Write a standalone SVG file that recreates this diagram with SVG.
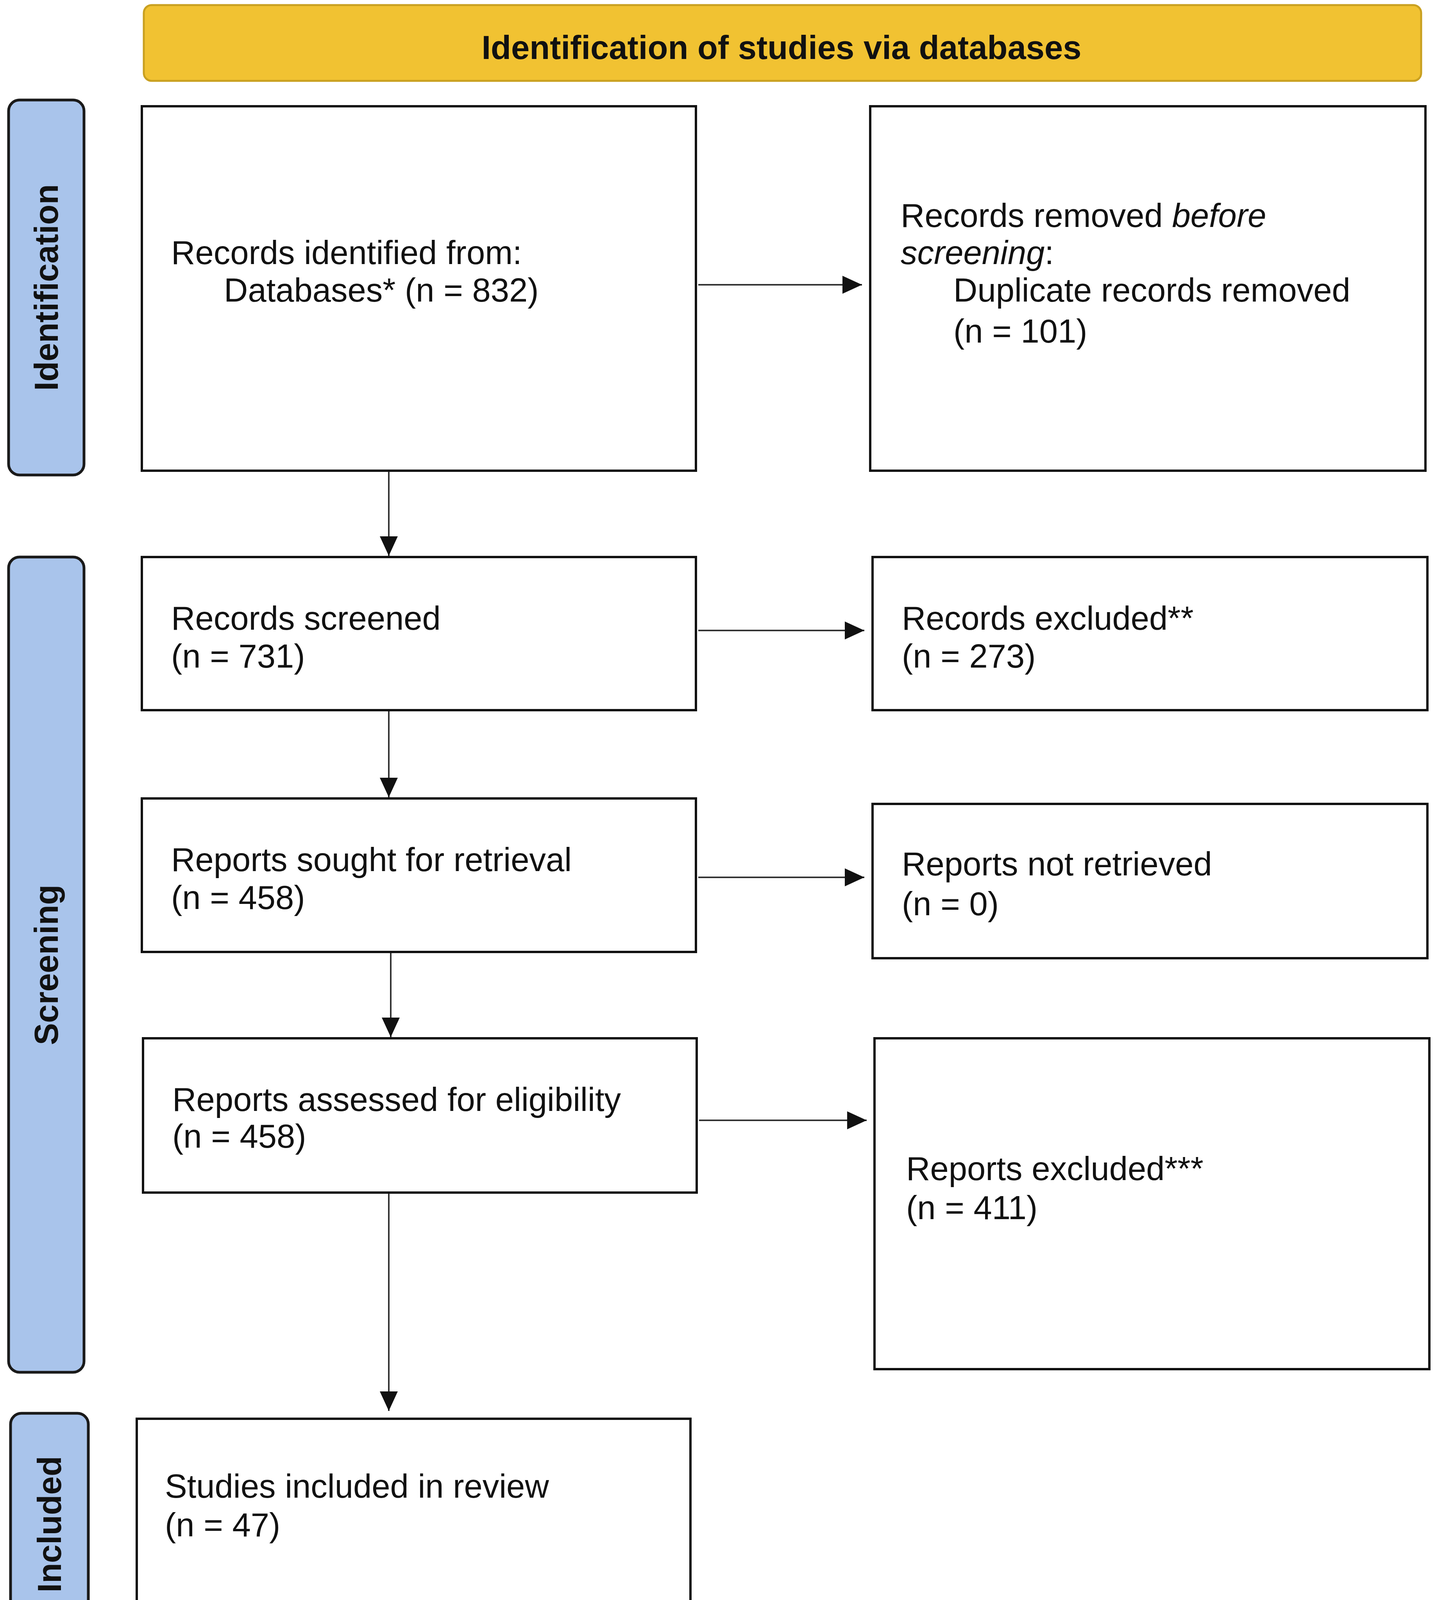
<svg xmlns="http://www.w3.org/2000/svg" width="3675" height="4216" viewBox="0 0 3675 4216">
<style>
text{font-family:"Liberation Sans",Arial,sans-serif;font-size:85px;fill:#111}
.b{font-weight:bold}
.box{fill:#fff;stroke:#111;stroke-width:6}
.side{fill:#a9c4eb;stroke:#1a1a1a;stroke-width:7}
.hdr{fill:#f1c232;stroke:#c9a020;stroke-width:5}
.c{stroke:#333;stroke-width:4;fill:none}
</style>
<defs>
<marker id="ah" markerUnits="userSpaceOnUse" markerWidth="52" markerHeight="46" refX="50" refY="23" orient="auto">
<path d="M0,0 L50,23 L0,46 z" fill="#111"/>
</marker>
</defs>
<rect width="3675" height="4216" fill="#fff"/>
<g id="header">
<rect class="hdr" x="368" y="13" width="3269" height="194" rx="20"/>
<text class="b" x="2000" y="151" text-anchor="middle">Identification of studies via databases</text>
</g>
<g id="lbl-identification">
<rect class="side" x="22" y="256" width="193" height="960" rx="28"/>
<text class="b" transform="translate(148,736) rotate(-90)" text-anchor="middle">Identification</text>
</g>
<g id="lbl-screening">
<rect class="side" x="22" y="1426" width="193" height="2087" rx="28"/>
<text class="b" transform="translate(148,2470) rotate(-90)" text-anchor="middle">Screening</text>
</g>
<g id="lbl-included">
<rect class="side" x="27" y="3618" width="199" height="568" rx="28"/>
<text class="b" transform="translate(156,3902) rotate(-90)" text-anchor="middle">Included</text>
</g>
<g id="n-identified">
<rect class="box" x="363" y="272" width="1418" height="933"/>
<text x="438" y="676">Records identified from:</text>
<text x="573" y="772">Databases* (n = 832)</text>
</g>
<g id="n-removed">
<rect class="box" x="2227" y="272" width="1421" height="933"/>
<text x="2305" y="581">Records removed <tspan font-style="italic">before</tspan></text>
<text x="2305" y="676"><tspan font-style="italic">screening</tspan>:</text>
<text x="2440" y="772">Duplicate records removed</text>
<text x="2440" y="877">(n = 101)</text>
</g>
<g id="n-screened">
<rect class="box" x="363" y="1426" width="1418" height="392"/>
<text x="438" y="1612">Records screened</text>
<text x="438" y="1709">(n = 731)</text>
</g>
<g id="n-excluded">
<rect class="box" x="2233" y="1426" width="1420" height="392"/>
<text x="2308" y="1612">Records excluded**</text>
<text x="2308" y="1709">(n = 273)</text>
</g>
<g id="n-sought">
<rect class="box" x="363" y="2044" width="1418" height="393"/>
<text x="438" y="2230">Reports sought for retrieval</text>
<text x="438" y="2327">(n = 458)</text>
</g>
<g id="n-notretrieved">
<rect class="box" x="2233" y="2058" width="1420" height="395"/>
<text x="2308" y="2241">Reports not retrieved</text>
<text x="2308" y="2343">(n = 0)</text>
</g>
<g id="n-assessed">
<rect class="box" x="366" y="2658" width="1417" height="395"/>
<text x="441" y="2844">Reports assessed for eligibility</text>
<text x="441" y="2938">(n = 458)</text>
</g>
<g id="n-repexcluded">
<rect class="box" x="2238" y="2658" width="1420" height="847"/>
<text x="2319" y="3021">Reports excluded***</text>
<text x="2319" y="3121">(n = 411)</text>
</g>
<g id="n-included">
<rect class="box" x="350" y="3632" width="1417" height="540"/>
<text x="422" y="3834">Studies included in review</text>
<text x="422" y="3933">(n = 47)</text>
</g>
<g id="connectors">
<line class="c" x1="1787" y1="729" x2="2206" y2="729" marker-end="url(#ah)"/>
<line class="c" x1="995" y1="1208" x2="995" y2="1423" marker-end="url(#ah)"/>
<line class="c" x1="1787" y1="1614" x2="2212" y2="1614" marker-end="url(#ah)"/>
<line class="c" x1="995" y1="1821" x2="995" y2="2041" marker-end="url(#ah)"/>
<line class="c" x1="1787" y1="2246" x2="2212" y2="2246" marker-end="url(#ah)"/>
<line class="c" x1="1000" y1="2440" x2="1000" y2="2655" marker-end="url(#ah)"/>
<line class="c" x1="1789" y1="2868" x2="2218" y2="2868" marker-end="url(#ah)"/>
<line class="c" x1="995" y1="3056" x2="995" y2="3612" marker-end="url(#ah)"/>
</g>
</svg>
